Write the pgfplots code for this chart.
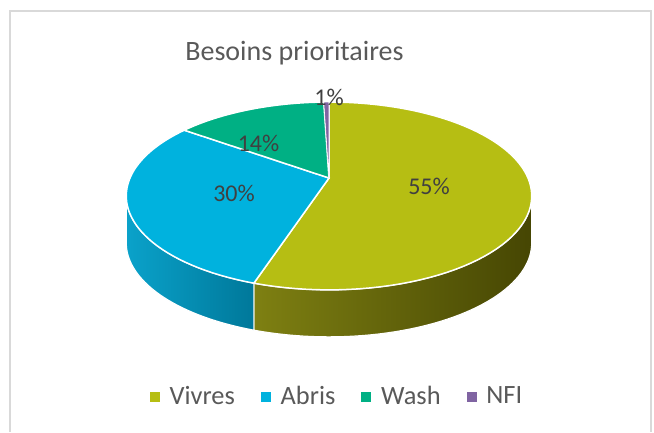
\documentclass[border=0pt]{standalone}
\usepackage{pgfplots}
\pgfplotsset{compat=1.18}
\usepackage{pgfplotstable}
\usepackage{fontspec}
\setmainfont{Carlito}
\definecolor{cVivres}{HTML}{B6BE13}
\definecolor{cAbris}{HTML}{00B2DE}
\definecolor{cWash}{HTML}{00B084}
\definecolor{cNFI}{HTML}{8064A2}
\definecolor{sVivL}{HTML}{7E8012}
\definecolor{sVivM}{HTML}{56560A}
\definecolor{sVivR}{HTML}{464603}
\definecolor{sAbrL}{HTML}{0AA2CA}
\definecolor{sAbrR}{HTML}{00789A}
\definecolor{txt}{HTML}{595959}
\definecolor{lbl}{HTML}{404040}
\definecolor{framec}{HTML}{D9D9D9}
\pgfplotstableread{
name value
Vivres 55
Abris 30
Wash 14.5
NFI 0.5
}\piedata
\pgfplotstablegetelem{0}{value}\of\piedata\let\vA\pgfplotsretval%
\pgfplotstablegetelem{1}{value}\of\piedata\let\vB\pgfplotsretval%
\pgfplotstablegetelem{2}{value}\of\piedata\let\vC\pgfplotsretval%
\pgfplotstablegetelem{3}{value}\of\piedata\let\vD\pgfplotsretval%
\pgfmathsetmacro\aA{90}%
\pgfmathsetmacro\aB{\aA-\vA*3.6}%
\pgfmathsetmacro\aC{\aB-\vB*3.6}%
\pgfmathsetmacro\aD{\aC-\vC*3.6}%
\pgfmathsetmacro\aE{\aD-\vD*3.6}%
\pgfmathsetmacro\sVa{max(\aB,-169)}%
\pgfmathsetmacro\sVb{min(\aA,-11)}%
\pgfmathsetmacro\sAa{max(\aC,-169)}%
\pgfmathsetmacro\sAb{min(\aB,-11)}%
\def\PX#1{329+199*cos(#1)/(1+0.191*sin(#1))}
\def\PY#1{178-90.5*sin(#1)/(1+0.191*sin(#1))}
\def\DEP{47}
\begin{document}
\begin{tikzpicture}
\begin{axis}[
  scale only axis, width=327pt, height=216pt,
  xmin=0, xmax=654, ymin=0, ymax=432, y dir=reverse,
  hide axis, clip=false,
  legend columns=4,
  legend style={at={(axis cs:338,397)}, anchor=center, draw=none, fill=none,
    font=\fontsize{13.2}{15}\selectfont, text=txt,
    /tikz/every odd column/.append style={column sep=3pt},
    /tikz/every even column/.append style={column sep=11pt}},
]
% page extent
\path (axis cs:0,0) rectangle (axis cs:654,432);
% frame
\draw[framec, line width=0.75pt] (axis cs:10,432) -- (axis cs:10,11) -- (axis cs:651,11) -- (axis cs:651,432);
% sides
\path[left color=sVivL, middle color=sVivM, right color=sVivR, draw=white, line width=0.6pt]
  plot[domain=\sVa:\sVb, samples=50, variable=\t] ({\PX{\t}},{\PY{\t}})
  -- plot[domain=\sVb:\sVa, samples=50, variable=\t] ({\PX{\t}},{\PY{\t}+\DEP}) -- cycle;
\path[left color=sAbrL, right color=sAbrR, draw=white, line width=0.6pt]
  plot[domain=\sAa:\sAb, samples=40, variable=\t] ({\PX{\t}},{\PY{\t}})
  -- plot[domain=\sAb:\sAa, samples=40, variable=\t] ({\PX{\t}},{\PY{\t}+\DEP}) -- cycle;
% top faces
\fill[cVivres, draw=white, line width=0.75pt] (329,178)
  -- plot[domain=\aB:\aA, samples=80, variable=\t] ({\PX{\t}},{\PY{\t}}) -- cycle;
\fill[cAbris, draw=white, line width=0.75pt] (329,178)
  -- plot[domain=\aC:\aB, samples=50, variable=\t] ({\PX{\t}},{\PY{\t}}) -- cycle;
\fill[cWash, draw=white, line width=0.75pt] (329,178)
  -- plot[domain=\aD:\aC, samples=30, variable=\t] ({\PX{\t}},{\PY{\t}}) -- cycle;
\fill[cNFI, draw=white, line width=0.3pt] (329,178)
  -- plot[domain=\aE:\aD, samples=5, variable=\t] ({\PX{\t}},{\PY{\t}}) -- cycle;
% labels
\node[anchor=base, text=lbl, font=\fontsize{12}{14}\selectfont, inner sep=0pt] at (axis cs:429,194) {55\%};
\node[anchor=base, text=lbl, font=\fontsize{12}{14}\selectfont, inner sep=0pt] at (axis cs:234,201.5) {30\%};
\node[anchor=base, text=lbl, font=\fontsize{12}{14}\selectfont, inner sep=0pt] at (axis cs:258.5,151.5) {14\%};
\node[anchor=base, text=lbl, font=\fontsize{12}{14}\selectfont, inner sep=0pt] at (axis cs:329,105) {1\%};
% title
\node[anchor=base, text=txt, font=\fontsize{14}{17}\selectfont, inner sep=0pt] at (axis cs:294.5,60) {Besoins prioritaires};
% legend
\addlegendimage{legend image code/.code={\fill[cVivres] (0pt,-2.25pt) rectangle (4.5pt,2.25pt);}}
\addlegendentry{Vivres}
\addlegendimage{legend image code/.code={\fill[cAbris] (0pt,-2.25pt) rectangle (4.5pt,2.25pt);}}
\addlegendentry{Abris}
\addlegendimage{legend image code/.code={\fill[cWash] (0pt,-2.25pt) rectangle (4.5pt,2.25pt);}}
\addlegendentry{Wash}
\addlegendimage{legend image code/.code={\fill[cNFI] (0pt,-2.25pt) rectangle (4.5pt,2.25pt);}}
\addlegendentry{NFI}
\end{axis}
\end{tikzpicture}
\end{document}
